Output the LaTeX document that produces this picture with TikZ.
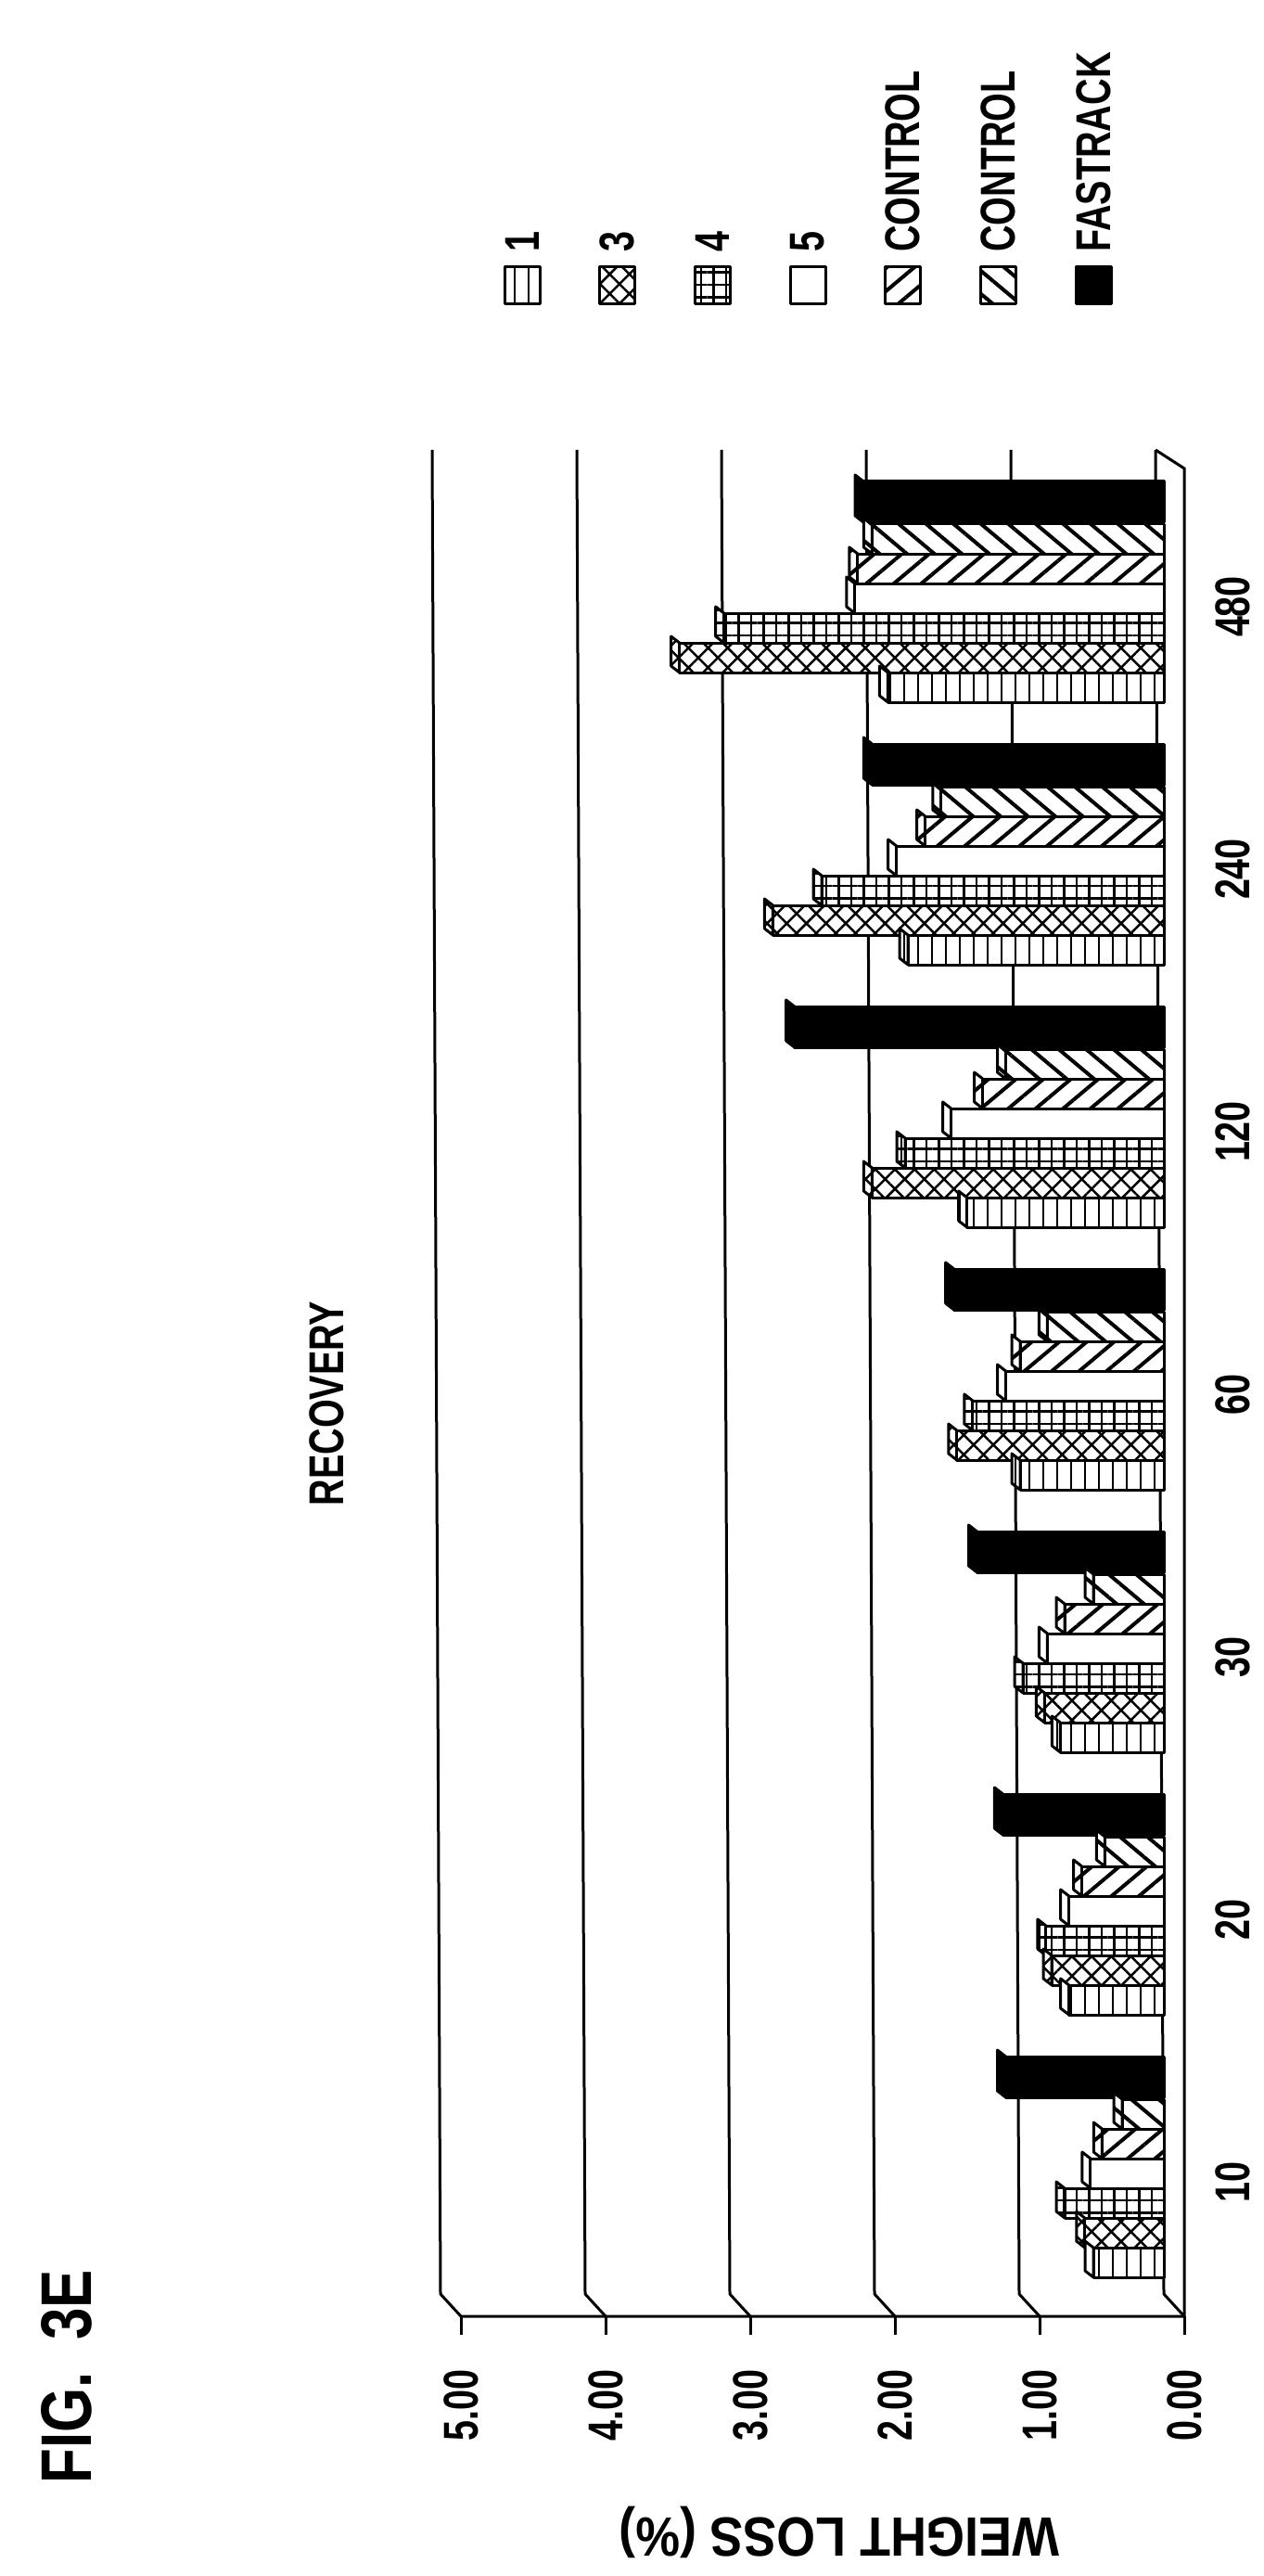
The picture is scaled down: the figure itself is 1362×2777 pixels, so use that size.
\documentclass[tikz,border=0pt]{standalone}
\usepackage{fontspec}
\setmainfont{Liberation Sans}
\usetikzlibrary{patterns.meta}
\newcommand\drawbar[4]{%
  \pgfmathsetmacro\yt{#1}%
  \pgfmathsetmacro\xl{1255-155*#3}%
  \pgfmathsetmacro\yb{\yt+#2}%
  \path[fill=white] (\xl-9,\yt-7) -- (\xl,\yt) -- (\xl,\yb) -- (\xl-9,\yb-7) -- cycle;
  \path[#4] (\xl-9,\yt-7) -- (\xl,\yt) -- (\xl,\yb) -- (\xl-9,\yb-7) -- cycle;
  \draw[barline] (\xl-9,\yt-7) -- (\xl,\yt) -- (\xl,\yb) -- (\xl-9,\yb-7) -- cycle;
  \path[fill=white] (\xl,\yt) rectangle (1255,\yb);
  \path[#4] (\xl,\yt) rectangle (1255,\yb);
  \draw[barline] (\xl,\yt) rectangle (1255,\yb);
}
\newcommand\lbl[1]{\scalebox{0.75}[1]{#1}}
\begin{document}
\begin{tikzpicture}[x=0.02cm,y=-0.02cm,
  barline/.style={line width=0.06cm,line join=round},
  gridl/.style={line width=0.06cm},
  sA/.style={pattern={Lines[angle=90,distance=0.3cm,line width=0.05cm]}},
  sB/.style={pattern={Hatch[angle=45,distance=0.3cm,line width=0.05cm]}},
  sC/.style={pattern={Hatch[angle=0,distance=0.27cm,line width=0.05cm]}},
  sD/.style={},
  sE/.style={pattern={Lines[angle=40,distance=0.38cm,line width=0.08cm]}},
  sF/.style={pattern={Lines[angle=-40,distance=0.38cm,line width=0.08cm]}},
  sG/.style={fill=black},
  txt/.style={inner sep=0pt,font=\bfseries\fontsize{30}{30}\selectfont}]
\useasboundingbox[fill=white] (0,0) rectangle (1362,2777);
% back grid lines
\foreach \v in {0,...,5}{
  \pgfmathsetmacro\X{1277-156*\v}
  \draw[gridl] (\X,2497) -- (\X-22,2473) -- (\X-31,485);
  \draw[gridl] (\X,2497) -- (\X,2517);
}
\draw[gridl] (497,2497) -- (1277,2497) -- (1277,505) -- (1246,485);
% bars
\foreach \k/\a/\b/\c/\d/\e/\f/\g/\lab in {
 0/0.49/0.55/0.69/0.51/0.43/0.29/1.10/10,
 1/0.66/0.78/0.82/0.66/0.57/0.41/1.12/20,
 2/0.72/0.83/0.98/0.81/0.69/0.49/1.30/30,
 3/1.00/1.44/1.33/1.10/1.00/0.81/1.46/60,
 4/1.37/2.03/1.80/1.48/1.26/1.10/2.57/120,
 5/1.78/2.72/2.38/1.86/1.66/1.55/2.03/240,
 6/1.92/3.37/3.06/2.15/2.13/2.03/2.09/480}{
  \pgfmathsetmacro\T{2217-283*\k}
  \drawbar{\T}{44}{\g}{sG}
  \drawbar{\T+46}{32}{\f}{sF}
  \drawbar{\T+78}{32}{\e}{sE}
  \drawbar{\T+110}{32}{\d}{sD}
  \drawbar{\T+142}{32}{\c}{sC}
  \drawbar{\T+174}{32}{\b}{sB}
  \drawbar{\T+206}{32}{\a}{sA}
  \node[txt,rotate=90] (g\k) at (1329,\T+135) {\lbl{\lab}};
}
% value labels
\foreach \v in {0,...,5}{
  \pgfmathsetmacro\X{1277-156*\v}
  \node[txt,rotate=90] (v\v) at (\X,2593) {\lbl{\v.00}};
}
\node[txt,rotate=180] (ylab) at (905,2730) {\scalebox{0.9}[1]{\fontsize{34}{34}\selectfont WEIGHT LOSS (\%)}};
\node[inner sep=0pt,rotate=90,font=\bfseries\fontsize{44}{44}\selectfont] (fig) at (72,2562) {\scalebox{0.8}[1]{FIG.\ \ 3E}};
\node[txt,rotate=90] (title) at (352,1513) {\lbl{RECOVERY}};
% legend
\foreach \i/\s/\t in {0/sA/1,1/sB/3,2/sC/4,3/sD/5,4/sE/CONTROL,5/sF/CONTROL,6/sG/FASTRACK}{
  \pgfmathsetmacro\L{563+102.7*\i}
  \path[fill=white] (\L-19,288) rectangle (\L+19,328);
  \path[\s] (\L-19,288) rectangle (\L+19,328);
  \draw[barline] (\L-19,288) rectangle (\L+19,328);
  \node[txt,rotate=90,anchor=west] (leg\i) at (\L,272) {\lbl{\t}};
}
\end{tikzpicture}
\end{document}
